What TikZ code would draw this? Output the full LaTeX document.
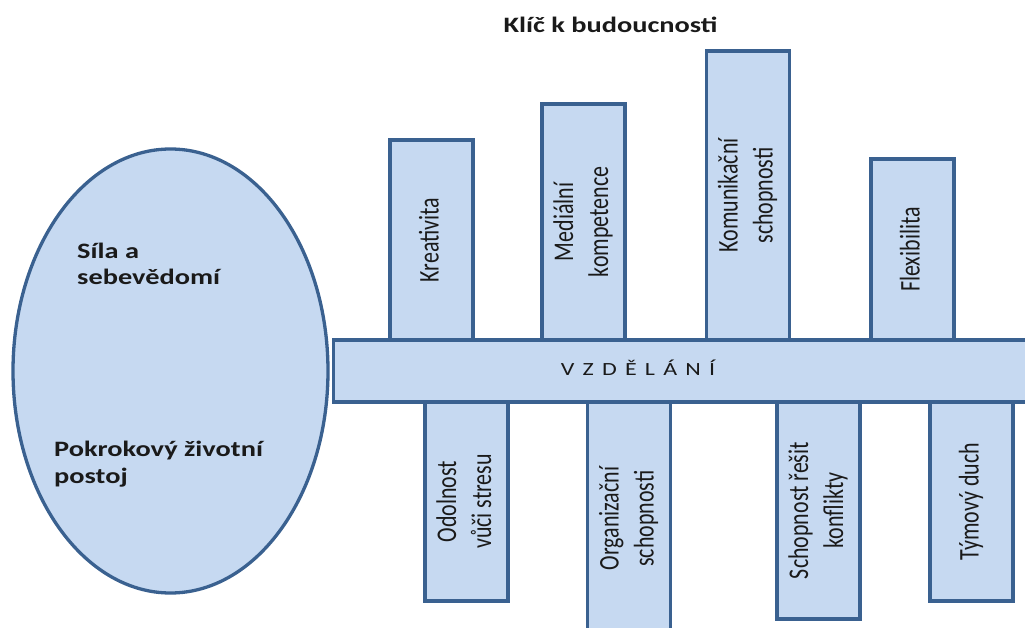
\documentclass[tikz,border=0pt]{standalone}
\usepackage{fontspec}
\usetikzlibrary{shapes.geometric}
\setmainfont{Carlito}
\newfontfamily\widef[FakeStretch=1.29]{Carlito}
\newfontfamily\narrowf[FakeStretch=0.77]{Carlito}
\newfontfamily\barf[FakeStretch=1.29,LetterSpace=15]{Carlito}
\definecolor{boxfill}{HTML}{C6D9F1}
\definecolor{boxline}{HTML}{3A6190}
\definecolor{txt}{HTML}{1A1A1A}
\newcommand\vlab[1]{\rotatebox{90}{\narrowf\fontsize{28.5}{35}\selectfont\begin{tabular}{@{}c@{}}#1\end{tabular}}}
\begin{document}
\begin{tikzpicture}[x=1pt,y=-1pt,
  shapebox/.style={draw=boxline, fill=boxfill, line width=3.3pt, inner sep=0pt, text=txt},
  armbox/.style={shapebox, rectangle, minimum width=83pt},
  wtext/.style={text=txt, inner sep=0pt, align=left, font=\widef\bfseries\fontsize{22}{27}\selectfont}]
\useasboundingbox (0,0) rectangle (1025,628);
% title
\node[wtext, anchor=base] (title) at (610.5,33) {Klíč k budoucnosti};
% ellipse
\node[shapebox, ellipse, minimum width=315pt, minimum height=444pt] (ell) at (170.5,371) {};
\node[wtext, anchor=base west] (sila) at (77,285) {Síla a\\sebevědomí};
\node[wtext, anchor=base west] (pokrok) at (54,483) {Pokrokový životní\\postoj};
% main bar
\node[shapebox, rectangle, anchor=west, minimum width=720pt, minimum height=62pt] (bar) at (332,371) {};
\node[text=txt, inner sep=0pt, anchor=base, font=\barf\fontsize{18.6}{22}\selectfont] (vzd) at (638,375) {V Z D Ě L Á N Í};
% upper arms
\node[armbox, minimum height=200pt] (kre) at (431.5,240) {\vlab{Kreativita}};
\node[armbox, minimum height=236pt] (med) at (583.5,222) {\vlab{Mediální\\kompetence}};
\node[armbox, minimum height=289pt] (kom) at (748,195.5) {\vlab{Komunikační\\schopnosti}};
\node[armbox, minimum height=181pt] (fle) at (912.5,249.5) {\vlab{Flexibilita}};
% lower arms
\node[armbox, minimum height=199pt] (odo) at (466.5,501.5) {\vlab{Odolnost\\vůči stresu}};
\node[armbox, minimum height=233pt] (org) at (629,518.5) {\vlab{Organizační\\schopnosti}};
\node[armbox, minimum height=217pt] (sch) at (818.5,510.5) {\vlab{Schopnost řešit\\konflikty}};
\node[armbox, minimum height=199pt] (tym) at (971.5,501.5) {\vlab{Týmový duch}};
\end{tikzpicture}
\end{document}
